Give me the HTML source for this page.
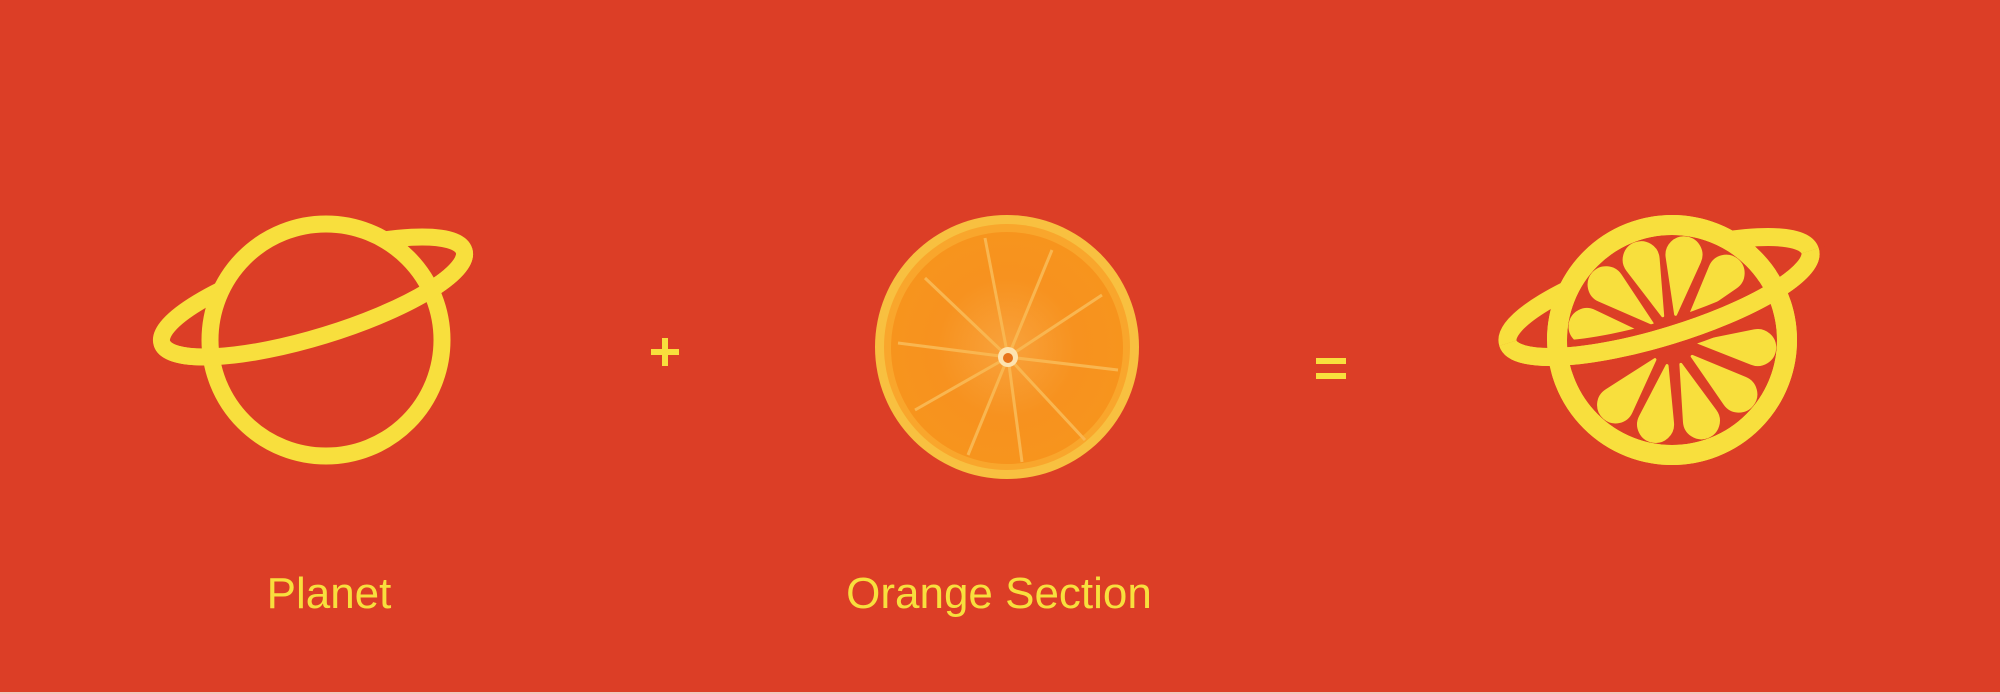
<!DOCTYPE html>
<html><head><meta charset="utf-8"><style>
html,body{margin:0;padding:0;background:#DC3E26;}
svg{display:block}
text{font-family:"Liberation Sans",sans-serif;}
</style></head><body>
<svg width="2000" height="694" viewBox="0 0 2000 694">
<defs>
<radialGradient id="flesh" cx="0.5" cy="0.5" r="0.5">
<stop offset="0" stop-color="#f8a23c"/><stop offset="0.6" stop-color="#f7921f"/><stop offset="1" stop-color="#f7941d"/>
</radialGradient>
<clipPath id="frontClip"><polygon points="-400,0 400,0 400,200 -400,200"/></clipPath>
<path id="drop" d="M26 0 L81.2 -16.3 A17 17 0 1 1 81.2 16.3 Z"/>
</defs>
<rect x="0" y="0" width="2000" height="694" fill="#DC3E26"/>
<rect x="0" y="692" width="2000" height="2" fill="#f0c8bf"/>

<g fill="none" stroke="#F8DF3D" stroke-width="17">
<g transform="translate(313,297) rotate(-17)">
<ellipse cx="0" cy="0" rx="158" ry="40"/>
</g>
<circle cx="326" cy="340" r="116" fill="#DC3E26"/>
<g transform="translate(313,297) rotate(-17)" clip-path="url(#frontClip)">
<ellipse cx="0" cy="0" rx="158" ry="40"/>
</g>
</g>

<g fill="#F8DF3D">
<rect x="651" y="349" width="28" height="6"/><rect x="662" y="338" width="6" height="28"/>
</g>

<g>
<circle cx="1007" cy="347" r="132" fill="#f8c040"/>
<circle cx="1007" cy="347" r="123" fill="#f9a62c"/>
<circle cx="1007" cy="348" r="116" fill="url(#flesh)"/>
<g stroke="#f9b650" stroke-width="3">
<line x1="1008" y1="357" x2="985" y2="238"/><line x1="1008" y1="357" x2="1052" y2="250"/>
<line x1="1008" y1="357" x2="1102" y2="295"/><line x1="1008" y1="357" x2="1118" y2="370"/>
<line x1="1008" y1="357" x2="1085" y2="440"/><line x1="1008" y1="357" x2="1022" y2="462"/>
<line x1="1008" y1="357" x2="968" y2="455"/><line x1="1008" y1="357" x2="915" y2="410"/>
<line x1="1008" y1="357" x2="898" y2="343"/><line x1="1008" y1="357" x2="925" y2="278"/>
</g>
<circle cx="1008" cy="357" r="10" fill="#fde3b0"/>
<circle cx="1008" cy="358" r="5" fill="#e8741a"/>
</g>

<g fill="#F8DF3D">
<rect x="1316" y="358" width="30" height="6"/><rect x="1316" y="373" width="30" height="6"/>
</g>

<g>
<g transform="translate(1659,297) rotate(-17)" fill="none" stroke="#F8DF3D" stroke-width="18">
<ellipse cx="0" cy="0" rx="158" ry="40"/>
</g>
<circle cx="1672" cy="340" r="115" fill="#DC3E26" stroke="#F8DF3D" stroke-width="20"/>
<g fill="#F8DF3D" stroke="#F8DF3D" stroke-width="3" stroke-linejoin="round" transform="translate(1672,340)">
<use href="#drop" transform="rotate(-111)"/>
<use href="#drop" transform="rotate(-82)"/>
<use href="#drop" transform="rotate(-51)"/>
<use href="#drop" transform="rotate(-140)"/>
<use href="#drop" transform="rotate(-171)"/>
<use href="#drop" transform="rotate(5)"/>
<use href="#drop" transform="rotate(39)"/>
<use href="#drop" transform="rotate(70)"/>
<use href="#drop" transform="rotate(101)"/>
<use href="#drop" transform="rotate(131)"/>
</g>
<g transform="translate(1659,297) rotate(-17)" clip-path="url(#frontClip)" fill="none">
<ellipse cx="0" cy="0" rx="158" ry="40" stroke="#DC3E26" stroke-width="32"/>
<ellipse cx="0" cy="0" rx="158" ry="40" stroke="#F8DF3D" stroke-width="18"/>
</g>
<circle cx="1672" cy="340" r="115" fill="none" stroke="#F8DF3D" stroke-width="20"/>
<g transform="translate(1659,297) rotate(-17)" clip-path="url(#frontClip)" fill="none">
<ellipse cx="0" cy="0" rx="158" ry="40" stroke="#F8DF3D" stroke-width="18"/>
</g>
</g>

<text x="329" y="608" font-size="44" fill="#F8DF3D" text-anchor="middle">Planet</text>
<text x="999" y="608" font-size="44" fill="#F8DF3D" text-anchor="middle">Orange Section</text>
</svg>
</body></html>
